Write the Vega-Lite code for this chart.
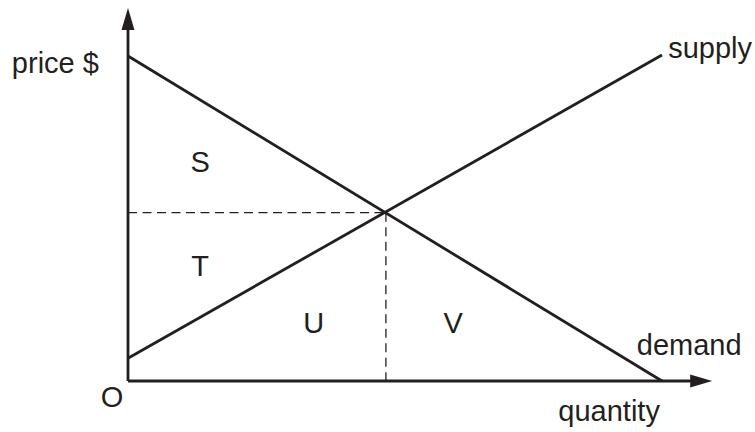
{
  "$schema": "https://vega.github.io/schema/vega-lite/v6.json",
  "width": 755,
  "height": 432,
  "padding": 0,
  "autosize": {"type": "fit", "contains": "padding"},
  "background": "white",
  "config": {"view": {"stroke": null}},
  "datasets": {
    "solid": [
      {"name": "price axis", "q1": 0, "p1": 0, "q2": 0, "p2": 11.1},
      {"name": "quantity axis", "q1": 0, "p1": 0, "q2": 10.6, "p2": 0},
      {"name": "demand", "q1": 0, "p1": 10, "q2": 10, "p2": 0},
      {"name": "supply", "q1": 0, "p1": 0.7, "q2": 10, "p2": 10.03}
    ],
    "dashed": [
      {"name": "equilibrium price", "q1": 0, "p1": 5.18, "q2": 4.83, "p2": 5.18},
      {"name": "equilibrium quantity", "q1": 4.83, "p1": 5.18, "q2": 4.83, "p2": 0}
    ],
    "arrows": [
      {"dir": "up", "q": 0, "p": 11.48},
      {"dir": "right", "q": 10.94, "p": 0}
    ],
    "labels": [
      {"text": "price $", "q": -1.36, "p": 9.49},
      {"text": "supply", "q": 10.9, "p": 9.94},
      {"text": "demand", "q": 10.51, "p": 0.8},
      {"text": "quantity", "q": 9.01, "p": -1.23},
      {"text": "O", "q": -0.3, "p": -0.8},
      {"text": "S", "q": 1.35, "p": 6.43},
      {"text": "T", "q": 1.35, "p": 3.22},
      {"text": "U", "q": 3.48, "p": 1.49},
      {"text": "V", "q": 6.09, "p": 1.49}
    ]
  },
  "encoding": {
    "x": {"field": "q", "type": "quantitative", "axis": null, "scale": {"domain": [-2.397, 11.742], "nice": false, "zero": false}},
    "y": {"field": "p", "type": "quantitative", "axis": null, "scale": {"domain": [-1.569, 11.723], "nice": false, "zero": false}}
  },
  "layer": [
    {
      "data": {"name": "solid"},
      "mark": {"type": "rule", "color": "#231f20", "strokeWidth": 2.8},
      "encoding": {
        "x": {"field": "q1", "type": "quantitative"},
        "y": {"field": "p1", "type": "quantitative"},
        "x2": {"field": "q2"},
        "y2": {"field": "p2"}
      }
    },
    {
      "data": {"name": "dashed"},
      "mark": {"type": "rule", "color": "#231f20", "strokeWidth": 1.3, "strokeDash": [9, 5.5]},
      "encoding": {
        "x": {"field": "q1", "type": "quantitative"},
        "y": {"field": "p1", "type": "quantitative"},
        "x2": {"field": "q2"},
        "y2": {"field": "p2"}
      }
    },
    {
      "data": {"name": "arrows"},
      "mark": {"type": "point", "filled": true, "color": "#231f20", "opacity": 1, "size": 484, "strokeWidth": 0},
      "encoding": {
        "shape": {
          "field": "dir",
          "type": "nominal",
          "legend": null,
          "scale": {"domain": ["up", "right"], "range": ["M0,0L0.59,2L-0.59,2Z", "M0,0L-2,0.59L-2,-0.59Z"]}
        }
      }
    },
    {
      "data": {"name": "labels"},
      "mark": {"type": "text", "font": "Liberation Sans", "fontSize": 29, "color": "#231f20", "align": "center", "baseline": "alphabetic"},
      "encoding": {
        "text": {"field": "text", "type": "nominal"}
      }
    }
  ]
}
